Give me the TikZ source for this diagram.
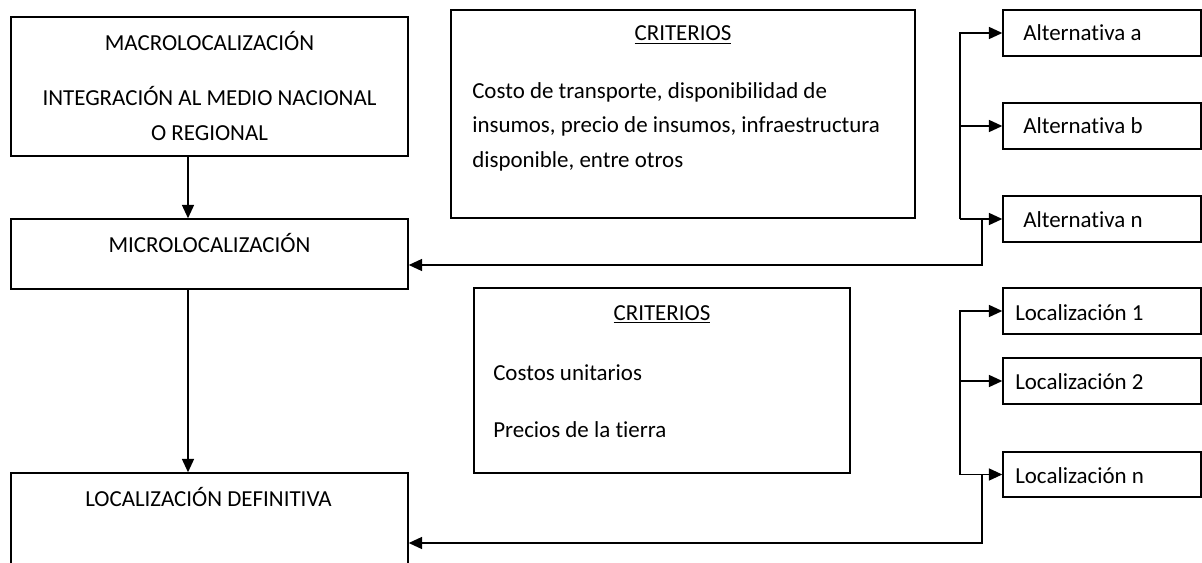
\documentclass[tikz,border=0pt]{standalone}
\usepackage{fontspec}
\setmainfont{Carlito}[Ligatures={NoCommon}]
\usetikzlibrary{arrows.meta,fit}
\begin{document}
\begin{tikzpicture}[x=0.75pt,y=-0.75pt,
  box/.style={draw, line width=1.1pt, inner sep=0pt},
  lbl/.style={anchor=base, inner sep=0pt, font=\fontsize{17.2}{20}\selectfont},
  lbll/.style={anchor=base west, inner sep=0pt, font=\fontsize{17.2}{20}\selectfont},
  conn/.style={line width=1.1pt},
  arr/.style={conn, -{Triangle[length=10pt,width=9pt]}}]
\useasboundingbox (0,0) rectangle (1202,563);
% boxes
\node[box, fit={(11,17) (408,156)}] (macro) {};
\node[box, fit={(11,219) (408,289)}] (micro) {};
\node[box, fit={(11,473) (408,640)}] (def) {};
\node[box, fit={(451,10) (915,218)}] (crit1) {};
\node[box, fit={(474,288) (850,473)}] (crit2) {};
\node[box, fit={(1003,10) (1201,56)}] (alta) {};
\node[box, fit={(1003,103) (1201,149)}] (altb) {};
\node[box, fit={(1003,196) (1201,242)}] (altn) {};
\node[box, fit={(1003,288) (1201,334)}] (loca) {};
\node[box, fit={(1003,358) (1201,404)}] (locb) {};
\node[box, fit={(1003,452) (1201,497)}] (locn) {};
% texts
\node[lbl] (tmacro) at (209.5,51) {MACROLOCALIZACIÓN};
\node[lbl] (tinteg) at (209.5,106) {INTEGRACIÓN AL MEDIO NACIONAL};
\node[lbl] (treg) at (209.5,141) {O REGIONAL};
\node[lbl] (tmicro) at (209.5,252) {MICROLOCALIZACIÓN};
\node[lbl] (tdef) at (208.5,506) {LOCALIZACIÓN DEFINITIVA};
\node[lbl] (tcrit1) at (683,41) {\underline{CRITERIOS}};
\node[lbll] (tc1a) at (472,99) {Costo de transporte, disponibilidad de};
\node[lbll] (tc1b) at (472,133) {insumos, precio de insumos, infraestructura};
\node[lbll] (tc1c) at (472,167) {disponible, entre otros};
\node[lbl] (tcrit2) at (662,320) {\underline{CRITERIOS}};
\node[lbll] (tc2a) at (493,380) {Costos unitarios};
\node[lbll] (tc2b) at (493,437) {Precios de la tierra};
\node[lbll] (talta) at (1023,41) {Alternativa a};
\node[lbll] (taltb) at (1023,134) {Alternativa b};
\node[lbll] (taltn) at (1023,227) {Alternativa n};
\node[lbll] (tloca) at (1015,320) {Localización 1};
\node[lbll] (tlocb) at (1015,389) {Localización 2};
\node[lbll] (tlocn) at (1015,483) {Localización n};
% helper coordinates
\coordinate (colA) at (188,0);
\coordinate (trunk) at (960,0);
\coordinate (ret) at (982,0);
\coordinate (inMicro) at (0,265);
\coordinate (inDef) at (0,543);
% connectors
\draw[arr] (macro.south -| colA) -- (micro.north -| colA);
\draw[arr] (micro.south -| colA) -- (def.north -| colA);
\draw[arr] (altn.west -| trunk) |- (alta.west);
\draw[arr] (altb.west -| trunk) -- (altb.west);
\draw[arr] (altn.west -| trunk) -- (altn.west);
\draw[arr] (altn.west -| ret) |- (micro.east |- inMicro);
\draw[arr] (locn.west -| trunk) |- (loca.west);
\draw[arr] (locb.west -| trunk) -- (locb.west);
\draw[arr] (locn.west -| trunk) -- (locn.west);
\draw[arr] (locn.west -| ret) |- (def.east |- inDef);
\end{tikzpicture}
\end{document}
